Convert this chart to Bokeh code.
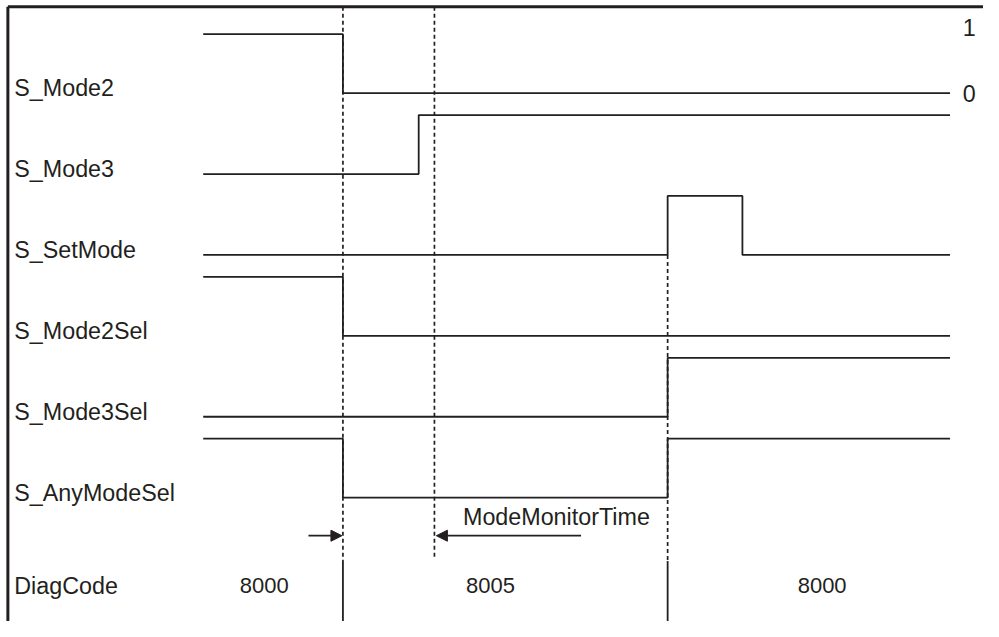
from bokeh.plotting import figure
from bokeh.models import Range1d, Arrow, NormalHead, ColumnDataSource
from bokeh.embed import file_html
from bokeh.resources import INLINE
from bokeh.core.properties import value

# ---------------- data ----------------
# event times (arbitrary time units)
T_START = 0
T_MODE2_OFF = 142      # S_Mode2 falls
T_MODE3_ON = 219       # S_Mode3 rises
T_MONITOR_END = 235    # ModeMonitorTime expires
T_SET_ON = 472         # S_SetMode rises
T_SET_OFF = 548        # S_SetMode falls
T_END = 759

SIGNAL_NAMES = ["S_Mode2", "S_Mode3", "S_SetMode", "S_Mode2Sel", "S_Mode3Sel", "S_AnyModeSel"]
S_MODE2_T = [T_START, T_MODE2_OFF, T_END]
S_MODE2_V = [1, 0, 0]
S_MODE3_T = [T_START, T_MODE3_ON, T_END]
S_MODE3_V = [0, 1, 1]
S_SETMODE_T = [T_START, T_SET_ON, T_SET_OFF, T_END]
S_SETMODE_V = [0, 1, 0, 0]
S_MODE2SEL_T = [T_START, T_MODE2_OFF, T_END]
S_MODE2SEL_V = [1, 0, 0]
S_MODE3SEL_T = [T_START, T_SET_ON, T_END]
S_MODE3SEL_V = [0, 1, 1]
S_ANYMODESEL_T = [T_START, T_MODE2_OFF, T_SET_ON, T_END]
S_ANYMODESEL_V = [1, 0, 1, 1]

DIAG_CODES = ["8000", "8005", "8000"]
DIAG_CODE_T = [62, 292, 629]          # centre time of each code label
DIAG_BOUNDARIES = [T_MODE2_OFF, T_SET_ON]

LEVEL_LABELS = ["1", "0"]

# ---------------- layout / style ----------------
COL = "#231f20"
FONT = "Liberation Sans"
FS_LABEL = "23.3px"
FS_NUM = "22px"
PITCH = 83.0     # vertical distance between rows
AMP = 60.5       # height of a logic "1"
LW = 1.8

X0, X1 = -206, 793
Y0, Y1 = -542, 95

p = figure(width=983, height=621, x_range=Range1d(X0, X1), y_range=Range1d(Y0, Y1),
           output_backend="svg", toolbar_location=None, min_border=0,
           x_axis_type=None, y_axis_type=None)
p.grid.visible = False
p.outline_line_color = None
p.background_fill_color = "white"
p.border_fill_color = "white"

def row_y(r, level):
    return -r * PITCH + level * AMP

signals = [
    (S_MODE2_T, S_MODE2_V),
    (S_MODE3_T, S_MODE3_V),
    (S_SETMODE_T, S_SETMODE_V),
    (S_MODE2SEL_T, S_MODE2SEL_V),
    (S_MODE3SEL_T, S_MODE3SEL_V),
    (S_ANYMODESEL_T, S_ANYMODESEL_V),
]

# frame (left and top edges)
BX, BY = X0 + 7.5, Y1 - 6.5
p.segment(x0=[BX, BX], y0=[Y0, BY], x1=[BX, X1], y1=[BY, BY], line_color=COL, line_width=3)

# dashed guide lines
DASH_BOTTOM = -480
p.segment(x0=[T_MODE2_OFF, T_MONITOR_END, T_SET_ON],
          y0=[BY, BY, row_y(2, 0)],
          x1=[T_MODE2_OFF, T_MONITOR_END, T_SET_ON],
          y1=[DASH_BOTTOM, DASH_BOTTOM + 2, DASH_BOTTOM],
          line_color=COL, line_width=1.7, line_dash="4 3")

# solid separators of the DiagCode row
p.segment(x0=DIAG_BOUNDARIES, y0=[DASH_BOTTOM] * 2, x1=DIAG_BOUNDARIES, y1=[Y0] * 2,
          line_color=COL, line_width=LW)

# signal traces
for r, (ts, vs) in enumerate(signals):
    p.step(x=ts, y=[row_y(r, v) for v in vs], mode="after", line_color=COL, line_width=LW)

# text vertical offset (alphabetic baseline correction)
TB = 9.5
DIAG_Y = -515 + TB

# signal labels
lab_src = ColumnDataSource(dict(x=[-192] * (len(SIGNAL_NAMES) + 1),
                                y=[row_y(r, 0) - 4.5 + TB for r in range(len(SIGNAL_NAMES))] + [DIAG_Y],
                                t=SIGNAL_NAMES + ["DiagCode"]))
p.text(x="x", y="y", text="t", source=lab_src, text_font=value(FONT), text_font_size=FS_LABEL,
       text_color=COL, text_align="left", text_baseline="alphabetic")

# DiagCode values
p.text(x=DIAG_CODE_T, y=[DIAG_Y] * 3, text=DIAG_CODES, text_font=value(FONT), text_font_size=FS_NUM,
       text_color=COL, text_align="center", text_baseline="alphabetic")

# level labels 1 / 0
p.text(x=[778.5, 778.5], y=[row_y(0, 1) + 6.5, row_y(0, 0) - 0.5], text=LEVEL_LABELS,
       text_font=value(FONT), text_font_size=FS_LABEL, text_color=COL,
       text_align="center", text_baseline="middle")

# arrows
ARROW_Y = -454
p.add_layout(Arrow(end=NormalHead(size=11, fill_color=COL, line_color=COL, line_width=1),
                   x_start=107, y_start=ARROW_Y, x_end=T_MODE2_OFF - 1, y_end=ARROW_Y,
                   line_color=COL, line_width=LW))
p.add_layout(Arrow(end=NormalHead(size=11, fill_color=COL, line_color=COL, line_width=1),
                   x_start=384, y_start=ARROW_Y, x_end=T_MONITOR_END + 2, y_end=ARROW_Y,
                   line_color=COL, line_width=LW))
p.text(x=[264], y=[-444 + TB], text=["ModeMonitorTime"], text_font=value(FONT), text_font_size=FS_LABEL,
       text_color=COL, text_align="left", text_baseline="alphabetic")

open("out.html", "w").write(file_html(p, INLINE))
